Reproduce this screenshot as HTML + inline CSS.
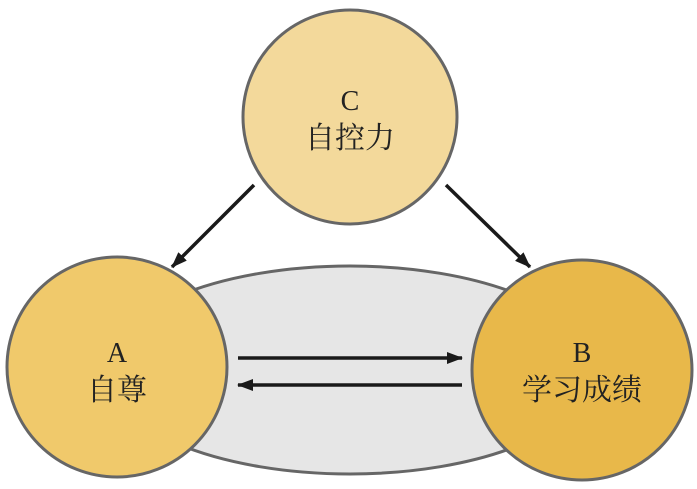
<!DOCTYPE html>
<html><head><meta charset="utf-8"><style>
html,body{margin:0;padding:0;background:#fff;}
svg{display:block;}
text{font-family:"Liberation Serif","Noto Serif CJK SC",serif;fill:#222;}
</style></head><body>
<svg width="697" height="489" viewBox="0 0 697 489" xmlns="http://www.w3.org/2000/svg">
<defs>
<marker id="ah" markerWidth="10" markerHeight="10" refX="9" refY="5" orient="auto" markerUnits="userSpaceOnUse">
<path d="M0,0 L10,5 L0,10 Z" fill="#1a1a1a"/>
</marker>
<marker id="ah2" markerWidth="16" markerHeight="12" refX="15" refY="6" orient="auto" markerUnits="userSpaceOnUse">
<path d="M0,0 L16,6 L0,12 Z" fill="#1a1a1a"/>
</marker>
</defs>
<ellipse cx="350" cy="370" rx="245" ry="104" fill="#e6e6e6" stroke="#666" stroke-width="3"/>
<circle cx="117" cy="367" r="110" fill="#f0c96b" stroke="#666" stroke-width="3"/>
<circle cx="582" cy="370" r="110" fill="#e8b84a" stroke="#666" stroke-width="3"/>
<circle cx="350" cy="117" r="107" fill="#f3d99b" stroke="#666" stroke-width="3"/>
<line x1="238" y1="358" x2="462" y2="358" stroke="#1a1a1a" stroke-width="3.5" marker-end="url(#ah2)"/>
<line x1="462" y1="385" x2="238" y2="385" stroke="#1a1a1a" stroke-width="3.5" marker-end="url(#ah2)"/>
<line x1="254" y1="185" x2="172" y2="267" stroke="#1a1a1a" stroke-width="3.5" marker-end="url(#ah2)"/>
<line x1="446" y1="185" x2="530" y2="267" stroke="#1a1a1a" stroke-width="3.5" marker-end="url(#ah2)"/>
<text x="350" y="110" font-size="28" text-anchor="middle">C</text>
<text x="350" y="148" font-size="30" text-anchor="middle">自控力</text>
<text x="117" y="362" font-size="28" text-anchor="middle">A</text>
<text x="117" y="400" font-size="30" text-anchor="middle">自尊</text>
<text x="582" y="362" font-size="28" text-anchor="middle">B</text>
<text x="582" y="400" font-size="30" text-anchor="middle">学习成绩</text>
</svg>
</body></html>
